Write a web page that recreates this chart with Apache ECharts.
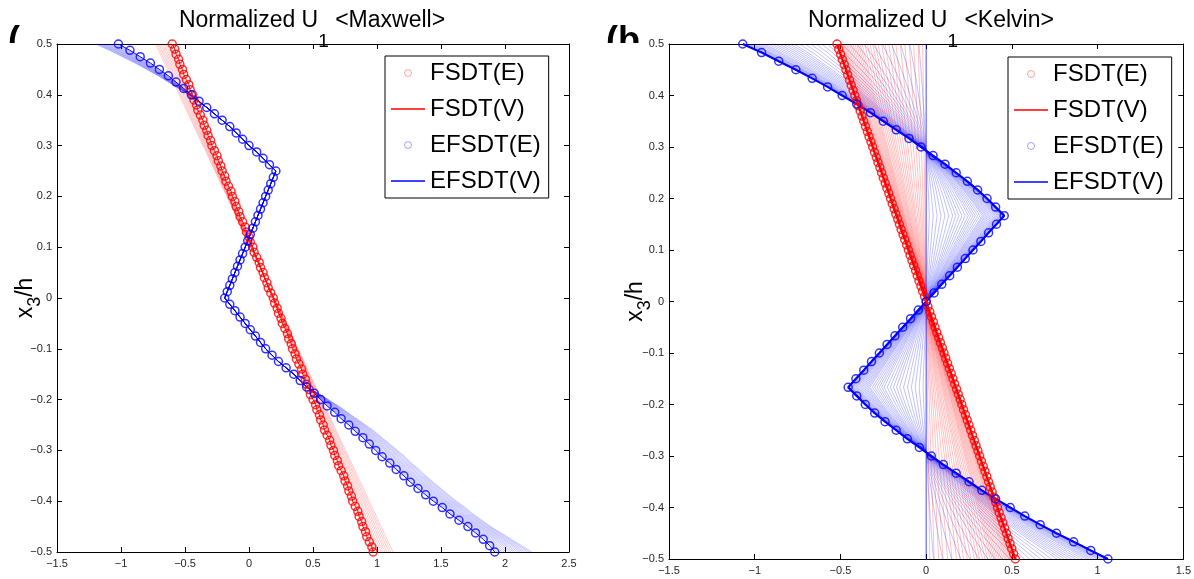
<!DOCTYPE html>
<html>
<head>
<meta charset="utf-8">
<title>Normalized U1</title>
<script src="https://cdn.jsdelivr.net/npm/echarts@6.0.0/dist/echarts.min.js"></script>
<style>
html,body{margin:0;padding:0;background:#fff;}
#chart{width:1194px;height:579px;}
</style>
</head>
<body>
<div id="chart"></div>
<script>
// ---------------- data ----------------
const seriesNames = ['FSDT(E)', 'FSDT(V)', 'EFSDT(E)', 'EFSDT(V)'];
const panelTitles = ['Maxwell', 'Kelvin'];
const mxXRange = [-1.5, 2.5];
const kvXRange = [-1.5, 1.5];
const yRange = [-0.5, 0.5];
const xStep = 0.5;
const yStep = 0.1;

// thickness coordinate for FSDT circles (x3/h)
const yFsdt = [0.5,0.49,0.48,0.47,0.46,0.45,0.44,0.43,0.42,0.41,0.4,0.39,0.38,0.37,0.36,0.35,0.34,0.33,0.32,0.31,0.3,0.29,0.28,0.27,0.26,0.25,0.24,0.23,0.22,0.21,0.2,0.19,0.18,0.17,0.16,0.15,0.14,0.13,0.12,0.11,0.1,0.09,0.08,0.07,0.06,0.05,0.04,0.03,0.02,0.01,0,-0.01,-0.02,-0.03,-0.04,-0.05,-0.06,-0.07,-0.08,-0.09,-0.1,-0.11,-0.12,-0.13,-0.14,-0.15,-0.16,-0.17,-0.18,-0.19,-0.2,-0.21,-0.22,-0.23,-0.24,-0.25,-0.26,-0.27,-0.28,-0.29,-0.3,-0.31,-0.32,-0.33,-0.34,-0.35,-0.36,-0.37,-0.38,-0.39,-0.4,-0.41,-0.42,-0.43,-0.44,-0.45,-0.46,-0.47,-0.48,-0.49,-0.5];

// Maxwell panel
const mxFsdtE = [-0.60,-0.58,-0.57,-0.55,-0.54,-0.52,-0.51,-0.49,-0.47,-0.46,-0.44,-0.43,-0.41,-0.40,-0.38,-0.36,-0.35,-0.33,-0.32,-0.30,-0.29,-0.27,-0.25,-0.24,-0.22,-0.21,-0.19,-0.18,-0.16,-0.14,-0.13,-0.11,-0.10,-0.08,-0.07,-0.05,-0.03,-0.02,0.00,0.01,0.03,0.04,0.06,0.08,0.09,0.11,0.12,0.14,0.15,0.17,0.19,0.20,0.22,0.23,0.25,0.26,0.28,0.30,0.31,0.33,0.34,0.36,0.37,0.39,0.41,0.42,0.44,0.45,0.47,0.48,0.50,0.52,0.53,0.55,0.56,0.58,0.59,0.61,0.63,0.64,0.66,0.67,0.69,0.70,0.72,0.74,0.75,0.77,0.78,0.80,0.81,0.83,0.85,0.86,0.88,0.89,0.91,0.92,0.94,0.96,0.97];
const mxRedFanTop = [-0.613,-0.626,-0.639,-0.652,-0.665,-0.678,-0.691,-0.704,-0.717,-0.730];
const mxRedFanBottom = [0.985,1.001,1.016,1.032,1.047,1.063,1.078,1.094,1.109,1.125];

const yMxEfsdt = [0.5,0.4875,0.475,0.4625,0.45,0.4375,0.425,0.4125,0.4,0.3875,0.375,0.3625,0.35,0.3375,0.325,0.3125,0.3,0.2875,0.275,0.2625,0.25,0.2375,0.225,0.2125,0.2,0.1875,0.175,0.1625,0.15,0.1375,0.125,0.1125,0.1,0.0875,0.075,0.0625,0.05,0.0375,0.025,0.0125,0,-0.0125,-0.025,-0.0375,-0.05,-0.0625,-0.075,-0.0875,-0.1,-0.1125,-0.125,-0.1375,-0.15,-0.1625,-0.175,-0.1875,-0.2,-0.2125,-0.225,-0.2375,-0.25,-0.2625,-0.275,-0.2875,-0.3,-0.3125,-0.325,-0.3375,-0.35,-0.3625,-0.375,-0.3875,-0.4,-0.4125,-0.425,-0.4375,-0.45,-0.4625,-0.475,-0.4875,-0.5];
const mxEfsdtE = [-1.02,-0.93,-0.85,-0.77,-0.70,-0.63,-0.57,-0.51,-0.45,-0.39,-0.33,-0.27,-0.21,-0.15,-0.10,-0.05,0.00,0.06,0.11,0.16,0.21,
  0.19,0.17,0.15,0.13,0.11,0.09,0.07,0.05,0.03,0.01,-0.01,-0.03,-0.05,-0.07,-0.09,-0.11,-0.13,-0.15,-0.17,-0.19,
  -0.15,-0.11,-0.07,-0.03,0.01,0.05,0.09,0.13,0.18,0.23,0.29,0.35,0.40,0.45,0.51,0.56,0.61,0.67,0.72,0.78,0.83,0.89,0.94,0.99,1.04,1.10,1.15,1.21,1.26,1.32,1.38,1.44,1.51,1.57,1.64,1.71,1.77,1.83,1.88,1.92];
// earliest (outermost) EFSDT(V) curve of the Maxwell fan
const mxEfsdtStart = [-1.20,-1.09,-0.99,-0.89,-0.80,-0.71,-0.63,-0.55,-0.47,-0.40,-0.33,-0.27,-0.21,-0.15,-0.10,-0.05,0.00,0.06,0.11,0.16,0.21,
  0.19,0.17,0.15,0.13,0.11,0.09,0.07,0.05,0.03,0.01,-0.01,-0.03,-0.05,-0.07,-0.09,-0.11,-0.13,-0.15,-0.17,-0.19,
  -0.15,-0.11,-0.07,-0.03,0.01,0.05,0.09,0.13,0.18,0.23,0.29,0.35,0.40,0.45,0.54,0.62,0.70,0.77,0.84,0.91,0.98,1.04,1.10,1.16,1.22,1.27,1.33,1.38,1.44,1.50,1.56,1.62,1.69,1.75,1.82,1.89,1.97,2.05,2.13,2.21];
const mxFanWeight = [0.06,0.12,0.19,0.25,0.31,0.38,0.44,0.5,0.56,0.62,0.69,0.75,0.81,0.88,0.94,1.0];

// Kelvin panel
const kvFsdtE = [-0.520,-0.510,-0.499,-0.489,-0.478,-0.468,-0.458,-0.447,-0.437,-0.426,-0.416,-0.406,-0.395,-0.385,-0.374,-0.364,-0.354,-0.343,-0.333,-0.322,-0.312,-0.302,-0.291,-0.281,-0.270,-0.260,-0.250,-0.239,-0.229,-0.218,-0.208,-0.198,-0.187,-0.177,-0.166,-0.156,-0.146,-0.135,-0.125,-0.114,-0.104,-0.094,-0.083,-0.073,-0.062,-0.052,-0.042,-0.031,-0.021,-0.010,0,0.010,0.021,0.031,0.042,0.052,0.062,0.073,0.083,0.094,0.104,0.114,0.125,0.135,0.146,0.156,0.166,0.177,0.187,0.198,0.208,0.218,0.229,0.239,0.250,0.260,0.270,0.281,0.291,0.302,0.312,0.322,0.333,0.343,0.354,0.364,0.374,0.385,0.395,0.406,0.416,0.426,0.437,0.447,0.458,0.468,0.478,0.489,0.499,0.510,0.520];
const yKvEfsdt = [0.5,0.4833,0.4667,0.45,0.4333,0.4167,0.4,0.3833,0.3667,0.35,0.3333,0.3167,0.3,0.2833,0.2667,0.25,0.2333,0.2167,0.2,0.1833,0.1667,0.15,0.1333,0.1167,0.1,0.0833,0.0667,0.05,0.0333,0.0167,0,-0.0167,-0.0333,-0.05,-0.0667,-0.0833,-0.1,-0.1167,-0.1333,-0.15,-0.1667,-0.1833,-0.2,-0.2167,-0.2333,-0.25,-0.2667,-0.2833,-0.3,-0.3167,-0.3333,-0.35,-0.3667,-0.3833,-0.4,-0.4167,-0.4333,-0.45,-0.4667,-0.4833,-0.5];
const kvEfsdtE = [-1.07,-0.96,-0.86,-0.76,-0.665,-0.575,-0.49,-0.405,-0.325,-0.25,-0.175,-0.10,-0.03,0.04,0.11,0.175,0.24,0.30,0.355,0.405,0.455,
  0.41,0.364,0.319,0.273,0.228,0.182,0.137,0.091,0.046,0,-0.046,-0.091,-0.137,-0.182,-0.228,-0.273,-0.319,-0.364,-0.41,
  -0.455,-0.405,-0.355,-0.30,-0.24,-0.175,-0.11,-0.04,0.03,0.10,0.175,0.25,0.325,0.405,0.49,0.575,0.665,0.76,0.86,0.96,1.06];
// relative amplitude of each visible creep-history curve in the Kelvin fans
const kvFanFactor = [0.04,0.09,0.14,0.19,0.24,0.29,0.34,0.38,0.42,0.46,0.50,0.54,0.57,0.60,0.63,0.66,0.69,0.72,0.74,0.76,0.78,0.80,0.82,0.84,0.86,0.88,0.895,0.91,0.925,0.94,0.95,0.96,0.97,0.98,0.99];
const kvInitialFactor = [0];

// ---------------- build ----------------
const F = '"Liberation Sans", Arial, Helvetica, sans-serif';
const pairs = (xs, ys) => xs.map((x, i) => [x, ys[i]]);
const yTop = yFsdt[0], yBot = yFsdt[yFsdt.length - 1];

const mxRedFan = mxRedFanTop.map((t, k) => ({coords: [[t, yTop], [mxRedFanBottom[k], yBot]]}));
const mxBlueFan = mxFanWeight.map(w => ({coords: yMxEfsdt.map((y, i) => [mxEfsdtE[i] + w * (mxEfsdtStart[i] - mxEfsdtE[i]), y])}));
const kvRedFan = kvFanFactor.map(s => ({coords: [[s * kvFsdtE[0], yTop], [s * kvFsdtE[kvFsdtE.length - 1], yBot]]}));
const kvBlueFan = kvFanFactor.map(s => ({coords: yKvEfsdt.map((y, i) => [s * kvEfsdtE[i], y])}));
const kvBlueInit = kvInitialFactor.map(s => ({coords: yKvEfsdt.map((y, i) => [s * kvEfsdtE[i], y])}));

const fmt = v => (v < 0 ? '\u2212' + String(-v) : String(v));

function xAxes(grid, range) {
  const base = {
    gridIndex: grid, type: 'value', min: range[0], max: range[1], interval: xStep,
    axisLine: {onZero: false, lineStyle: {color: '#000', width: 1}},
    axisTick: {inside: true, length: 5, lineStyle: {color: '#000'}},
    splitLine: {show: false}
  };
  return [
    Object.assign({}, base, {position: 'bottom', axisLabel: {fontSize: 11, fontFamily: F, color: '#262626', margin: 6, formatter: fmt}}),
    Object.assign({}, base, {position: 'top', axisLabel: {show: false}})
  ];
}
function yAxes(grid, gap) {
  const base = {
    gridIndex: grid, type: 'value', min: yRange[0], max: yRange[1], interval: yStep,
    axisLine: {onZero: false, lineStyle: {color: '#000', width: 1}},
    axisTick: {inside: true, length: 5, lineStyle: {color: '#000'}},
    splitLine: {show: false}
  };
  return [
    Object.assign({}, base, {
      position: 'left',
      axisLabel: {fontSize: 11, fontFamily: F, color: '#262626', margin: 5, formatter: fmt},
      name: '{m|x}{s|3}{m|/h}', nameLocation: 'middle', nameRotate: 90, nameGap: gap, nameMoveOverlap: false,
      nameTextStyle: {rich: {
        m: {fontSize: 23, fontFamily: F, color: '#000', lineHeight: 30, verticalAlign: 'top'},
        s: {fontSize: 18, fontFamily: F, color: '#000', lineHeight: 16, verticalAlign: 'bottom'}
      }}
    }),
    Object.assign({}, base, {position: 'right', axisLabel: {show: false}})
  ];
}

function panelSeries(ax, redFan, redFinal, blueFan, blueFinal, redPts, bluePts, fanAlpha, finalWidth) {
  return [
    {type: 'lines', name: seriesNames[3], coordinateSystem: 'cartesian2d', xAxisIndex: ax, yAxisIndex: ax,
     polyline: true, silent: true, z: 2, lineStyle: {color: '#0000ff', width: 0.7, opacity: fanAlpha}, data: blueFan},
    {type: 'lines', name: seriesNames[1], coordinateSystem: 'cartesian2d', xAxisIndex: ax, yAxisIndex: ax,
     polyline: true, silent: true, z: 2, lineStyle: {color: '#ff0000', width: 0.7, opacity: fanAlpha}, data: redFan},
    {type: 'line', name: seriesNames[3], xAxisIndex: ax, yAxisIndex: ax, showSymbol: false, silent: true, z: 3,
     lineStyle: {color: '#0000ff', width: finalWidth}, data: blueFinal},
    {type: 'line', name: seriesNames[1], xAxisIndex: ax, yAxisIndex: ax, showSymbol: false, silent: true, z: 3,
     lineStyle: {color: '#ff0000', width: finalWidth}, data: redFinal},
    {type: 'scatter', name: seriesNames[0], xAxisIndex: ax, yAxisIndex: ax, clip: false, silent: true, z: 4,
     symbol: 'circle', symbolSize: 8, itemStyle: {color: 'rgba(255,255,255,0)', borderColor: '#ff0000', borderWidth: 1.5},
     data: redPts},
    {type: 'scatter', name: seriesNames[2], xAxisIndex: ax, yAxisIndex: ax, clip: false, silent: true, z: 5,
     symbol: 'circle', symbolSize: 8, itemStyle: {color: 'rgba(255,255,255,0)', borderColor: '#0000ff', borderWidth: 1.5},
     data: bluePts}
  ];
}

const legendData = [
  {name: seriesNames[0], icon: 'circle', itemStyle: {color: 'rgba(255,255,255,0)', borderColor: 'rgba(255,0,0,0.45)', borderWidth: 1}},
  {name: seriesNames[1], icon: 'path://M0,0H40V1.6H0Z', itemStyle: {color: '#ff0000', borderWidth: 0}},
  {name: seriesNames[2], icon: 'circle', itemStyle: {color: 'rgba(255,255,255,0)', borderColor: 'rgba(0,0,255,0.45)', borderWidth: 1}},
  {name: seriesNames[3], icon: 'path://M0,0H40V1.6H0Z', itemStyle: {color: '#0000ff', borderWidth: 0}}
];
function legendAt(left, top) {
  return {
    left: left, top: top, orient: 'vertical', selectedMode: false,
    itemWidth: 34, itemHeight: 7, itemGap: 12, padding: [5, 8, 5, 6],
    borderColor: '#000', borderWidth: 1, backgroundColor: '#fff',
    textStyle: {fontSize: 24, fontFamily: F, color: '#000', lineHeight: 24},
    data: legendData
  };
}

// title pieces: main text, subscript, suffix laid out left-to-right from a computed start
function titleGroup(cx, label) {
  const main = 'Normalized U', sub = '1', tail = ' <' + label + '>';
  const fMain = '23px ' + F, fSub = '19px ' + F;
  const ctx = document.createElement('canvas').getContext('2d');
  ctx.font = fMain; const wMain = ctx.measureText(main).width, wTail = ctx.measureText(tail).width;
  ctx.font = fSub; const wSub = ctx.measureText(sub).width;
  const x0 = cx - (wMain + wSub + wTail) / 2;
  return [
    {type: 'text', x: x0, y: 9, z: 10, silent: true, style: {text: main, font: fMain, fill: '#000', verticalAlign: 'top'}},
    {type: 'text', x: x0 + wMain, y: 32, z: 10, silent: true, style: {text: sub, font: fSub, fill: '#000', verticalAlign: 'top'}},
    {type: 'text', x: x0 + wMain + wSub, y: 9, z: 10, silent: true, style: {text: tail, font: fMain, fill: '#000', verticalAlign: 'top'}}
  ];
}

const option = {
  backgroundColor: '#fff',
  animation: false,
  grid: [
    {left: 57, top: 44, width: 512, height: 508},
    {left: 669, top: 44, width: 516, height: 515}
  ],
  xAxis: xAxes(0, mxXRange).concat(xAxes(1, kvXRange)),
  yAxis: yAxes(0, 13).concat(yAxes(1, 15)),
  legend: [legendAt(385, 56), legendAt(1008, 57)],
  graphic: []
    .concat(titleGroup(312, panelTitles[0]))
    .concat(titleGroup(931, panelTitles[1]))
    .concat([
      {type: 'text', x: 8, y: 60, z: -3, silent: true,
       style: {text: '(', font: 'bold 36px ' + F, fill: '#000', verticalAlign: 'bottom'}},
      {type: 'text', x: 606, y: 60, z: -3, silent: true,
       style: {text: '(b', font: 'bold 36px ' + F, fill: '#000', verticalAlign: 'bottom'}},
      {type: 'rect', z: -2, silent: true, shape: {x: 0, y: 43, width: 34, height: 30}, style: {fill: '#fff'}},
      {type: 'rect', z: -2, silent: true, shape: {x: 600, y: 43, width: 60, height: 30}, style: {fill: '#fff'}}
    ]),
  series: []
    .concat(panelSeries(0, mxRedFan, pairs(mxFsdtE, yFsdt), mxBlueFan, pairs(mxEfsdtE, yMxEfsdt),
                        pairs(mxFsdtE, yFsdt), pairs(mxEfsdtE, yMxEfsdt), 0.3, 1))
    .concat(panelSeries(2, kvRedFan, pairs(kvFsdtE, yFsdt), kvBlueFan, pairs(kvEfsdtE, yKvEfsdt),
                        pairs(kvFsdtE, yFsdt), pairs(kvEfsdtE, yKvEfsdt), 0.35, 2.2))
    .concat([{type: 'lines', name: seriesNames[3], coordinateSystem: 'cartesian2d', xAxisIndex: 2, yAxisIndex: 2,
              polyline: true, silent: true, z: 2, lineStyle: {color: '#0000ff', width: 1.2, opacity: 0.6}, data: kvBlueInit}])
};

const chart = echarts.init(document.getElementById('chart'), null, {renderer: 'canvas'});
chart.setOption(option);
</script>
</body>
</html>
